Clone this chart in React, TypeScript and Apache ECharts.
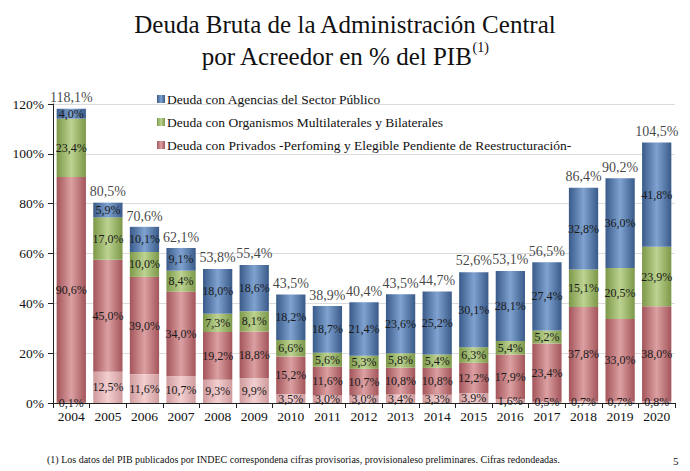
import React, { useEffect, useRef } from "react";
import * as echarts from "echarts";

const years = ["2004","2005","2006","2007","2008","2009","2010","2011","2012","2013","2014","2015","2016","2017","2018","2019","2020"];
const privadosElegible = [0.1,12.5,11.6,10.7,9.3,9.9,3.5,3.0,3.0,3.4,3.3,3.9,1.6,0.5,0.7,0.7,0.8];
const privadosPerforming = [90.6,45.0,39.0,34.0,19.2,18.8,15.2,11.6,10.7,10.8,10.8,12.2,17.9,23.4,37.8,33.0,38.0];
const organismos = [23.4,17.0,10.0,8.4,7.3,8.1,6.6,5.6,5.3,5.8,5.4,6.3,5.4,5.2,15.1,20.5,23.9];
const agencias = [4.0,5.9,10.1,9.1,18.0,18.6,18.2,18.7,21.4,23.6,25.2,30.1,28.1,27.4,32.8,36.0,41.8];
const totals = [118.1,80.5,70.6,62.1,53.8,55.4,43.5,38.9,40.4,43.5,44.7,52.6,53.1,56.5,86.4,90.2,104.5];
const yTicks = [0, 20, 40, 60, 80, 100, 120];

const SERIF = "Liberation Serif";

const fmt = (v: number) => v.toFixed(1).replace(".", ",") + "%";

const grad = (edge: string, mid: string) =>
  new echarts.graphic.LinearGradient(0, 0, 1, 0, [
    { offset: 0, color: edge },
    { offset: 0.5, color: mid },
    { offset: 1, color: edge },
  ]);

export default function App() {
  const ref = useRef<HTMLDivElement>(null);
  useEffect(() => {
    if (!ref.current) return;
    const chart = echarts.init(ref.current, undefined, { renderer: "svg" });
    const innerLabel = {
      show: true,
      position: "inside" as const,
      fontFamily: SERIF,
      fontSize: 12,
      color: "#1a1a1a",
      formatter: (p: any) => fmt(p.value),
    };
    const mk = (name: string, data: number[], edge: string, mid: string) => ({
      name,
      type: "bar",
      stack: "total",
      data,
      barCategoryGap: "20%",
      itemStyle: { color: grad(edge, mid) },
      label: innerLabel,
    });
    chart.setOption({
      animation: false,
      title: {
        text: "Deuda Bruta de la Administración Central\npor Acreedor en % del PIB{sup|(1)}",
        left: "center",
        top: 3,
        textStyle: {
          fontFamily: SERIF,
          fontSize: 25,
          fontWeight: "normal",
          color: "#111",
          lineHeight: 32,
          rich: {
            sup: { fontFamily: SERIF, fontSize: 14, verticalAlign: "top", padding: [0, 0, 14, 0], color: "#111" },
          },
        },
      },
      legend: {
        data: [
          "Deuda con Agencias del Sector Público",
          "Deuda con Organismos Multilaterales y Bilaterales",
          "Deuda con Privados -Perfoming y Elegible Pendiente de Reestructuración-",
        ],
        orient: "vertical",
        left: 152,
        top: 87,
        itemGap: 9,
        itemWidth: 8,
        itemHeight: 8,
        icon: "rect",
        textStyle: { fontFamily: SERIF, fontSize: 13.5, color: "#111", padding: [0, 0, 0, -3] },
      },
      grid: { left: 53, right: 15, top: 104, bottom: 68 },
      xAxis: {
        type: "category",
        data: years,
        axisLine: { lineStyle: { color: "#222" } },
        axisTick: { show: true, length: 5, lineStyle: { color: "#222" } },
        axisLabel: { fontFamily: SERIF, fontSize: 13.5, color: "#111", margin: 6 },
      },
      yAxis: {
        type: "value",
        min: yTicks[0],
        max: yTicks[yTicks.length - 1],
        interval: 20,
        axisLine: { show: true, lineStyle: { color: "#222" } },
        axisTick: { show: true, length: 5, lineStyle: { color: "#222" } },
        axisLabel: { fontFamily: SERIF, fontSize: 13.5, color: "#111", formatter: "{value}%", margin: 9 },
        splitLine: { lineStyle: { color: "#dcdcdc" } },
      },
      series: [
        mk("Privados Elegible", privadosElegible, "#cf9a9c", "#f2cfd0"),
        mk("Deuda con Privados -Perfoming y Elegible Pendiente de Reestructuración-", privadosPerforming, "#a3555a", "#dca0a2"),
        mk("Deuda con Organismos Multilaterales y Bilaterales", organismos, "#7c9848", "#bcd391"),
        mk("Deuda con Agencias del Sector Público", agencias, "#3a5b8a", "#7fa2d0"),
        {
          name: "Total",
          type: "scatter",
          data: totals,
          symbolSize: 0,
          silent: true,
          label: {
            show: true,
            position: "top",
            distance: 4,
            fontFamily: SERIF,
            fontSize: 14,
            color: "#111",
            formatter: (p: any) => fmt(p.value),
          },
        },
      ],
      graphic: [
        {
          type: "text",
          left: 47,
          top: 454,
          style: {
            text: "(1) Los datos del PIB publicados por INDEC correspondena cifras provisorias, provisionaleso preliminares. Cifras redondeadas.",
            fontFamily: SERIF,
            fontSize: 10,
            fill: "#111",
          },
        },
        {
          type: "text",
          left: 673,
          top: 455,
          style: { text: "5", fontFamily: SERIF, fontSize: 11, fill: "#111" },
        },
      ],
    });
    return () => chart.dispose();
  }, []);
  return <div ref={ref} style={{ width: 690, height: 471, position: "absolute", left: 0, top: 0 }} />;
}
